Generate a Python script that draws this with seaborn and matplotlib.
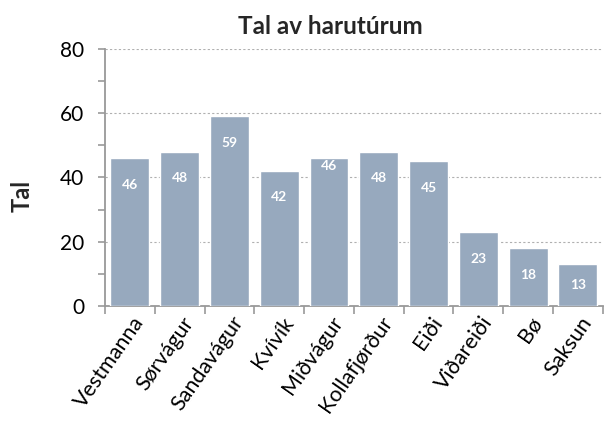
import numpy as np
import pandas as pd
import seaborn as sns
import matplotlib.pyplot as plt
import matplotlib.transforms as mtransforms
from matplotlib.ticker import MultipleLocator, FixedLocator

places = ["Vestmanna", "Sørvágur", "Sandavágur", "Kvívík", "Miðvágur",
          "Kollafjørður", "Eiði", "Viðareiði", "Bø", "Saksun"]
counts = [46, 48, 59, 42, 46, 48, 45, 23, 18, 13]
# how far below the bar top each value label sits (points)
label_drop = [19, 19, 19, 19, 6, 19, 19, 19, 19, 15]

df = pd.DataFrame({"place": places, "tal": counts})

sns.set_style("white")
plt.rcParams["font.family"] = ["Lato", "DejaVu Sans"]

fig = plt.figure(figsize=(6.07, 4.21), dpi=100)
ax = fig.add_axes([0.173, 0.273, 0.820, 0.611])

sns.barplot(data=df, x="place", y="tal", color="#97a9be", saturation=1,
            width=0.78, ax=ax, zorder=3)

for i, (v, d) in enumerate(zip(counts, label_drop)):
    ax.annotate(str(v), (i, v), xytext=(0, -d), textcoords="offset points",
                ha="center", va="center", color="white", fontsize=10,
                fontweight="bold", zorder=4)

ax.set_ylim(0, 80)
ax.set_xlim(-0.5, len(places) - 0.5)
ax.yaxis.set_major_locator(MultipleLocator(20))
ax.yaxis.set_minor_locator(MultipleLocator(10))
ax.xaxis.set_minor_locator(FixedLocator(np.arange(-0.5, len(places), 1.0)))
ax.grid(axis="y", which="major", color="#b0b0b0", linestyle=(0, (2, 2)),
        linewidth=0.8, zorder=0)

for side in ["top", "right"]:
    ax.spines[side].set_visible(False)
for side in ["left", "bottom"]:
    ax.spines[side].set_color("#999999")
    ax.spines[side].set_linewidth(1.3)

ax.tick_params(axis="y", which="both", direction="out", length=5,
               color="#999999", width=1.2, labelsize=15, left=True,
               labelcolor="black", pad=10)
ax.tick_params(axis="x", which="major", length=0, labelsize=15.5,
               labelcolor="black", pad=9)
ax.tick_params(axis="x", which="minor", direction="out", length=6,
               color="#999999", width=1.2, bottom=True)
shift = mtransforms.ScaledTranslation(7 / 72, 0, fig.dpi_scale_trans)
for lbl in ax.get_xticklabels():
    lbl.set_rotation(55)
    lbl.set_ha("right")
    lbl.set_va("center")
    lbl.set_rotation_mode("anchor")
    lbl.set_transform(lbl.get_transform() + shift)

ax.set_xlabel("")
ax.set_ylabel("Tal", fontsize=17, fontweight="bold", va="center")
ax.yaxis.set_label_coords(-0.167, 0.43)
fig.text(0.544, 0.936, "Tal av harutúrum", fontsize=17.5, fontweight="bold",
         ha="center", va="center")

fig.savefig("out.png", dpi=100)
